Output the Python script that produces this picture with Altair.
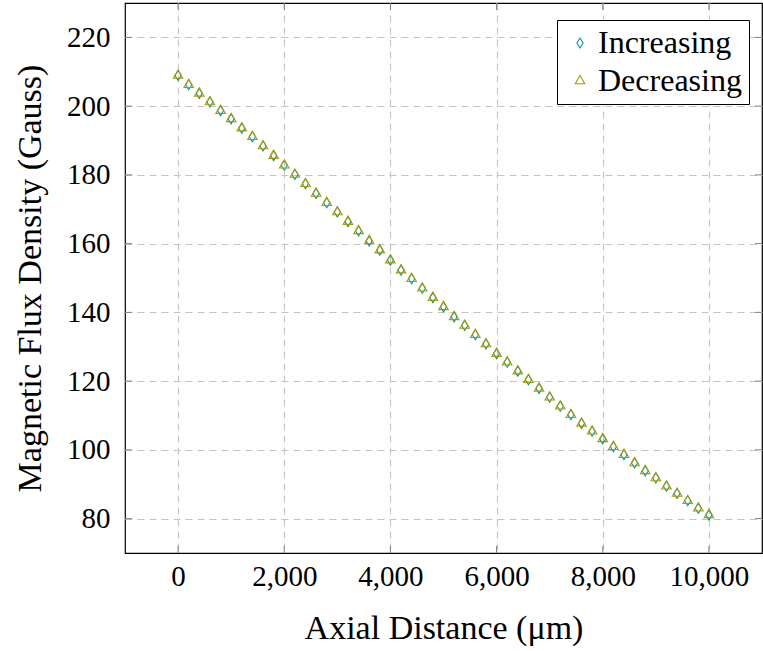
import altair as alt
import pandas as pd

# Axial position of each probe reading (micrometres)
axial_um = [
    0, 200, 400, 600, 800, 1000, 1200, 1400, 1600, 1800,
    2000, 2200, 2400, 2600, 2800, 3000, 3200, 3400, 3600, 3800,
    4000, 4200, 4400, 4600, 4800, 5000, 5200, 5400, 5600, 5800,
    6000, 6200, 6400, 6600, 6800, 7000, 7200, 7400, 7600, 7800,
    8000, 8200, 8400, 8600, 8800, 9000, 9200, 9400, 9600, 9800,
    10000,
]

# Flux density (Gauss) measured while stepping outward
b_increasing = [
    208.9, 206.2, 203.7, 201.2, 198.7, 196.3, 193.6, 191.1, 188.4, 185.6,
    182.8, 180.1, 177.4, 174.6, 171.9, 169.2, 166.4, 163.7, 160.8, 158.1,
    155.2, 152.3, 149.8, 147.0, 144.3, 141.6, 138.7, 136.2, 133.5, 130.8,
    128.0, 125.5, 122.9, 120.4, 117.9, 115.3, 112.7, 110.2, 107.7, 105.4,
    103.2, 100.9, 98.6, 96.2, 93.9, 91.8, 89.4, 87.3, 85.2, 83.0,
    81.1,
]

# Flux density (Gauss) measured while stepping back
b_decreasing = [
    208.9, 206.2, 203.7, 201.2, 198.7, 196.3, 193.6, 191.1, 188.4, 185.6,
    182.8, 180.1, 177.4, 174.6, 171.9, 169.2, 166.4, 163.7, 160.8, 158.1,
    155.2, 152.3, 149.8, 147.0, 144.3, 141.6, 138.7, 136.2, 133.5, 130.8,
    128.0, 125.5, 122.9, 120.4, 117.9, 115.3, 112.7, 110.2, 107.7, 105.4,
    103.2, 100.9, 98.6, 96.2, 93.9, 91.8, 89.4, 87.3, 85.2, 83.0,
    81.1,
]

x_ticks = [0, 2000, 4000, 6000, 8000, 10000]
y_ticks = [80, 100, 120, 140, 160, 180, 200, 220]

series_names = ["Increasing", "Decreasing"]
series_colors = ["#0f9294", "#a59b00"]
# tall diamond and centred triangle, in the unit box [-1, 1]
series_shapes = [
    "M0,-1L0.62,0L0,1L-0.62,0Z",
    "M0,-1.1L0.95,0.55L-0.95,0.55Z",
]

W, H = 637, 550
FONT = "Liberation Serif"
X_TITLE = "Axial Distance (μm)"
Y_TITLE = "Magnetic Flux Density (Gauss)"

df = pd.DataFrame({
    "x": axial_um + axial_um,
    "b": b_increasing + b_decreasing,
    "series": [series_names[0]] * len(axial_um) + [series_names[1]] * len(axial_um),
})

xs = alt.Scale(domain=[-1000, 11000], nice=False, zero=False)
ys = alt.Scale(domain=[70, 230], nice=False, zero=False)

legend = alt.Legend(title=None, orient="none", legendX=432, legendY=17)

points = alt.Chart(df).mark_point(filled=False, strokeWidth=1.1, size=100, opacity=1).encode(
    x=alt.X("x:Q", scale=xs, title=X_TITLE,
            axis=alt.Axis(values=x_ticks, format=",d", grid=True, ticks=False, domain=False,
                          labelPadding=9, titlePadding=20)),
    y=alt.Y("b:Q", scale=ys, title=Y_TITLE,
            axis=alt.Axis(values=y_ticks, grid=True, ticks=False, domain=False,
                          labelPadding=15, titlePadding=19)),
    color=alt.Color("series:N", scale=alt.Scale(domain=series_names, range=series_colors), legend=legend),
    shape=alt.Shape("series:N", scale=alt.Scale(domain=series_names, range=series_shapes), legend=legend),
)

# short inward tick marks on all four sides of the frame
tick_color = "#808080"
ydf = pd.DataFrame({"v": y_ticks})
xdf = pd.DataFrame({"v": x_ticks})
t_left = alt.Chart(ydf).mark_rule(color=tick_color, strokeWidth=1).encode(
    y=alt.Y("v:Q", scale=ys, title=Y_TITLE), x=alt.value(0), x2=alt.value(7))
t_right = alt.Chart(ydf).mark_rule(color=tick_color, strokeWidth=1).encode(
    y=alt.Y("v:Q", scale=ys, title=Y_TITLE), x=alt.value(W - 7), x2=alt.value(W))
t_bottom = alt.Chart(xdf).mark_rule(color=tick_color, strokeWidth=1).encode(
    x=alt.X("v:Q", scale=xs, title=X_TITLE), y=alt.value(H - 7), y2=alt.value(H))
t_top = alt.Chart(xdf).mark_rule(color=tick_color, strokeWidth=1).encode(
    x=alt.X("v:Q", scale=xs, title=X_TITLE), y=alt.value(0), y2=alt.value(7))

chart = alt.layer(points, t_left, t_right, t_bottom, t_top).properties(
    width=W, height=H,
    autosize=alt.AutoSizeParams(type="none"),
    padding={"left": 125, "top": 3, "right": 1, "bottom": 98},
    background="white",
).configure_view(
    stroke="black", strokeWidth=1.2,
).configure_axis(
    labelFont=FONT, labelFontSize=29, labelColor="black",
    titleFont=FONT, titleFontSize=34, titleFontWeight="normal", titleColor="black",
    gridColor="#c4c4c4", gridDash=[7, 5], gridWidth=1.1,
).configure_legend(
    strokeColor="black", fillColor="white", padding=7, cornerRadius=0,
    labelFont=FONT, labelFontSize=32, labelColor="black",
    symbolSize=100, symbolStrokeWidth=1.1, rowPadding=6, labelOffset=2,
)

chart.save("out.html", embed_options={"renderer": "svg", "actions": False})
